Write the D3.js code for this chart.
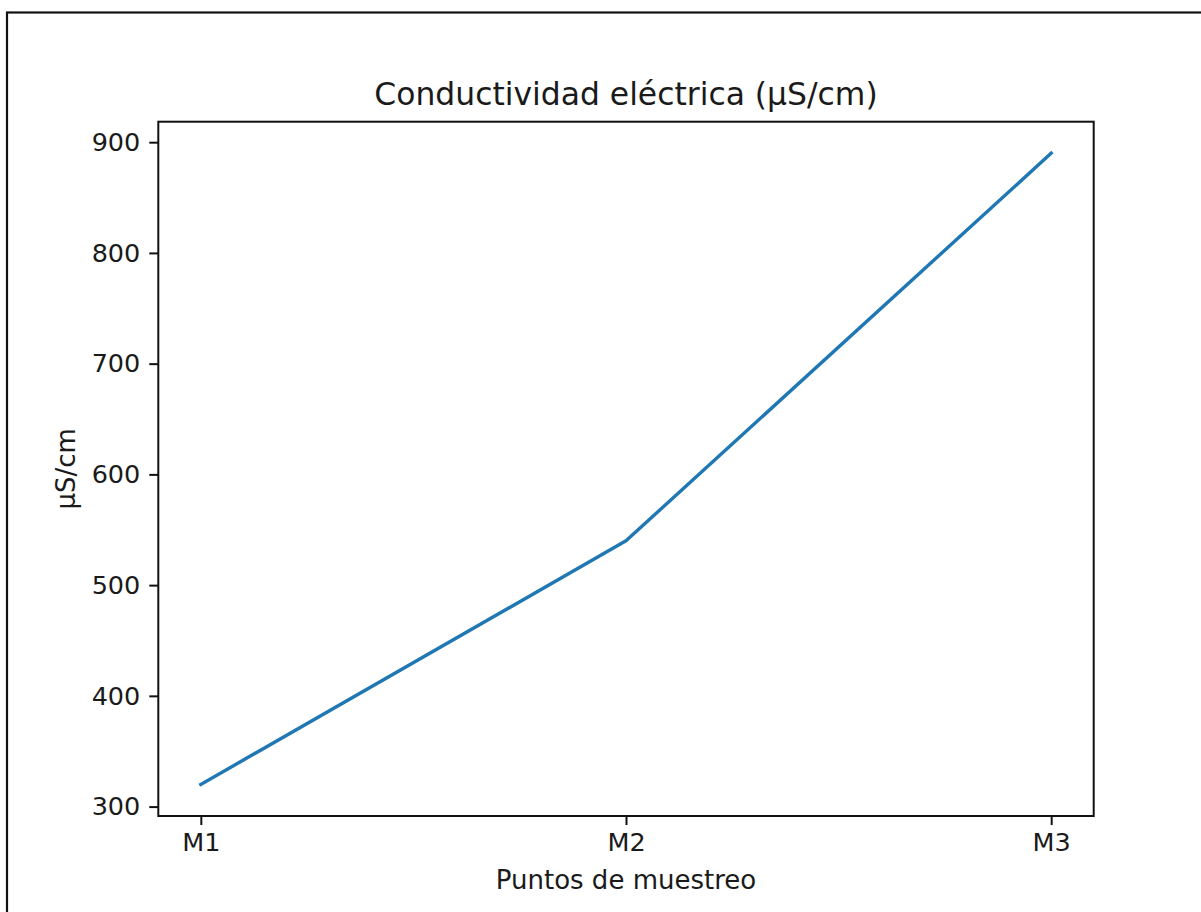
<!DOCTYPE html>
<html>
<head>
<meta charset="utf-8">
<script src="https://cdn.jsdelivr.net/npm/d3@7/dist/d3.min.js"></script>
<style>
	body { margin: 0; background: #fff; }
	svg text { font-family: "DejaVu Sans", sans-serif; fill: #1a1a1a; }
</style>
</head>
<body>
<div id="chart"></div>
<script>
var puntos = ["M1", "M2", "M3"];
var conductividad = [320, 540, 890];
var yTicks = [300, 400, 500, 600, 700, 800, 900];

function drawChart()
{
	var dim = {
		width: 1201,
		height: 912,
		margin: { top: 121.7, bottom: 96, left: 158.3, right: 107.3 }
	};
	dim.ctrWidth = dim.width - dim.margin.left - dim.margin.right;
	dim.ctrHeight = dim.height - dim.margin.top - dim.margin.bottom;

	var data = puntos.map((p, i) => ({ punto: p, valor: conductividad[i] }));

	var svg = d3.select("#chart")
		.append("svg")
		.attr("width", dim.width)
		.attr("height", dim.height);

	// figure frame (only top/left edges visible in the shot)
	svg.append("rect")
		.attr("x", 7)
		.attr("y", 12.5)
		.attr("width", 1300)
		.attr("height", 1000)
		.attr("fill", "none")
		.attr("stroke", "#111")
		.attr("stroke-width", 2.2);

	var ctr = svg.append("g")
		.attr("transform", `translate(${dim.margin.left},${dim.margin.top})`);

	var ext = d3.extent(conductividad);
	var pad = (ext[1] - ext[0]) * 0.05;

	var xScale = d3.scalePoint()
		.domain(puntos)
		.range([0, dim.ctrWidth])
		.padding(0.1);

	var yScale = d3.scaleLinear()
		.domain([ext[0] - pad, ext[1] + pad])
		.range([dim.ctrHeight, 0]);

	var line = d3.line()
		.x(d => xScale(d.punto))
		.y(d => yScale(d.valor));

	ctr.append("path")
		.datum(data)
		.attr("d", line)
		.attr("fill", "none")
		.attr("stroke", "#1f77b4")
		.attr("stroke-width", 3.4)
		.attr("stroke-linecap", "square")
		.attr("stroke-linejoin", "round");

	var xAxis = d3.axisBottom(xScale).tickSize(9).tickPadding(8);
	var yAxis = d3.axisLeft(yScale).tickValues(yTicks).tickSize(9).tickPadding(9);

	var xg = ctr.append("g")
		.attr("transform", `translate(0,${dim.ctrHeight})`)
		.call(xAxis);
	var yg = ctr.append("g").call(yAxis);

	[xg, yg].forEach(g => {
		g.select(".domain").remove();
		g.selectAll(".tick line").attr("stroke", "#111").attr("stroke-width", 2);
		g.selectAll(".tick text").style("font-size", "25.5px").attr("fill", "#1a1a1a");
	});

	// spines
	ctr.append("rect")
		.attr("width", dim.ctrWidth)
		.attr("height", dim.ctrHeight)
		.attr("fill", "none")
		.attr("stroke", "#111")
		.attr("stroke-width", 2);

	svg.append("text")
		.attr("x", dim.margin.left + dim.ctrWidth / 2)
		.attr("y", 105)
		.attr("text-anchor", "middle")
		.style("font-size", "31.4px")
		.text("Conductividad eléctrica (µS/cm)");

	svg.append("text")
		.attr("x", dim.margin.left + dim.ctrWidth / 2)
		.attr("y", 889)
		.attr("text-anchor", "middle")
		.style("font-size", "26px")
		.text("Puntos de muestreo");

	svg.append("text")
		.attr("transform", `translate(75,${dim.margin.top + dim.ctrHeight / 2}) rotate(-90)`)
		.attr("text-anchor", "middle")
		.style("font-size", "26px")
		.text("µS/cm");
}

drawChart();
</script>
</body>
</html>
